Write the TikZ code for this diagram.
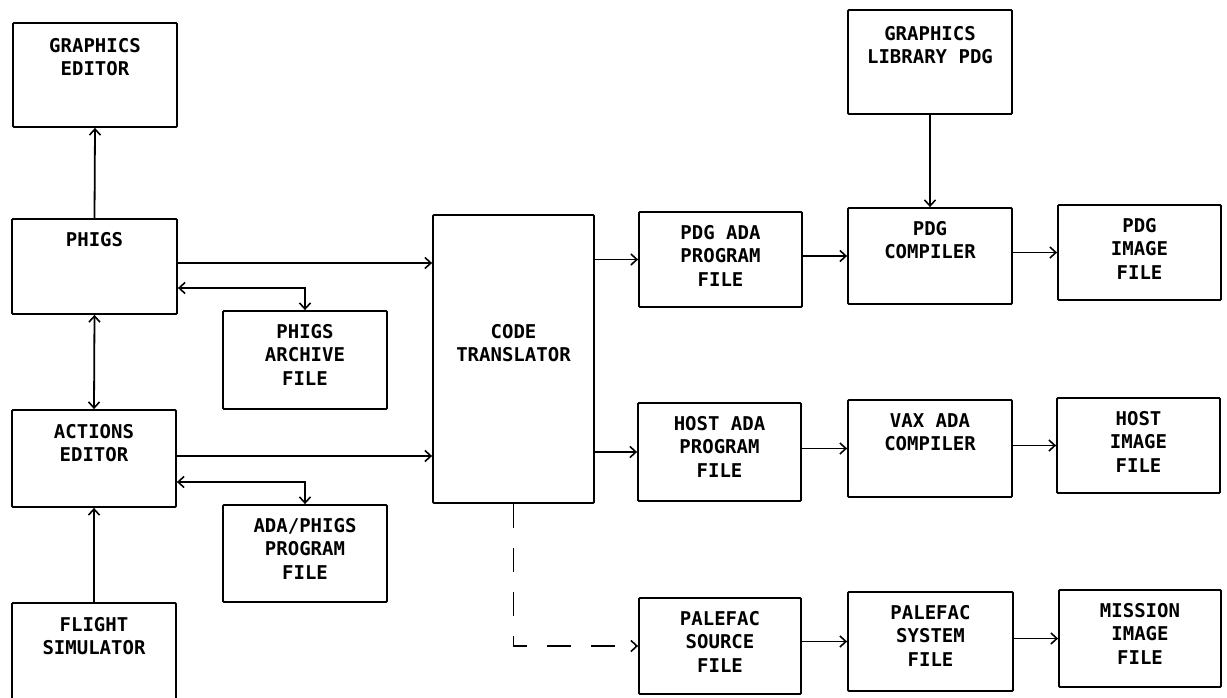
\documentclass[tikz,border=0pt]{standalone}
\usepackage{fontspec}
\newfontfamily\lett{DejaVu Sans Mono}
\usetikzlibrary{arrows.meta}
\begin{document}
\begin{tikzpicture}[x=1pt,y=-1pt,
  box/.style={draw,line width=1.8pt,inner sep=0pt,rounded corners=1pt},
  txt/.style={font=\lett\bfseries\fontsize{19}{23.5}\selectfont,align=center,inner sep=0pt,anchor=north},
  arr/.style={line width=1.8pt,-{Straight Barb[length=6pt,width=11pt,line width=1.6pt]}},
  arrb/.style={line width=1.8pt,{Straight Barb[length=6pt,width=11pt,line width=1.6pt]}-{Straight Barb[length=6pt,width=11pt,line width=1.6pt]}},
  dsh/.style={arr,dash pattern=on 24pt off 20pt}]
\useasboundingbox (0,0) rectangle (1227,698);
% boxes
\node[box,minimum width=164pt,minimum height=104pt] (ge) at (95,75) {};
\node[box,minimum width=165pt,minimum height=95pt] (phigs) at (94.5,266.5) {};
\node[box,minimum width=164pt,minimum height=98pt] (arch) at (305,360) {};
\node[box,minimum width=164pt,minimum height=97pt] (act) at (94,458.5) {};
\node[box,minimum width=164pt,minimum height=97pt] (adap) at (305,553.5) {};
\node[box,minimum width=164pt,minimum height=117pt] (fs) at (94,661.5) {};
\node[box,minimum width=161pt,minimum height=288pt] (ct) at (513.5,359) {};
\node[box,minimum width=163pt,minimum height=95pt] (pdga) at (720.5,259.5) {};
\node[box,minimum width=163pt,minimum height=98pt] (hosta) at (719.5,452) {};
\node[box,minimum width=162pt,minimum height=96pt] (pals) at (720,646) {};
\node[box,minimum width=164pt,minimum height=104pt] (glp) at (930,62) {};
\node[box,minimum width=164pt,minimum height=96pt] (pdgc) at (930,256) {};
\node[box,minimum width=164pt,minimum height=97pt] (vax) at (930,448.5) {};
\node[box,minimum width=165pt,minimum height=99pt] (palsys) at (930.5,641.5) {};
\node[box,minimum width=163pt,minimum height=95pt] (pdgi) at (1139.5,252.5) {};
\node[box,minimum width=163pt,minimum height=95pt] (hosti) at (1138.5,445.5) {};
\node[box,minimum width=162pt,minimum height=97pt] (mis) at (1140,638.5) {};
% texts
\node[txt] (ge-t) at ([yshift=-16pt]ge.north) {GRAPHICS\\EDITOR};
\node[txt] (phigs-t) at ([yshift=-14pt]phigs.north) {PHIGS};
\node[txt] (arch-t) at ([yshift=-14pt]arch.north) {PHIGS\\ARCHIVE\\FILE};
\node[txt] (act-t) at ([yshift=-15pt]act.north) {ACTIONS\\EDITOR};
\node[txt] (adap-t) at ([yshift=-14pt]adap.north) {ADA/PHIGS\\PROGRAM\\FILE};
\node[txt] (fs-t) at ([yshift=-15pt]fs.north) {FLIGHT\\SIMULATOR};
\node[txt] (ct-t) at ([yshift=-110pt]ct.north) {CODE\\TRANSLATOR};
\node[txt] (pdga-t) at ([yshift=-14pt]pdga.north) {PDG ADA\\PROGRAM\\FILE};
\node[txt] (hosta-t) at ([yshift=-14pt]hosta.north) {HOST ADA\\PROGRAM\\FILE};
\node[txt] (pals-t) at ([yshift=-14pt]pals.north) {PALEFAC\\SOURCE\\FILE};
\node[txt] (glp-t) at ([yshift=-17pt]glp.north) {GRAPHICS\\LIBRARY PDG};
\node[txt] (pdgc-t) at ([yshift=-14pt]pdgc.north) {PDG\\COMPILER};
\node[txt] (vax-t) at ([yshift=-14pt]vax.north) {VAX ADA\\COMPILER};
\node[txt] (palsys-t) at ([yshift=-14pt]palsys.north) {PALEFAC\\SYSTEM\\FILE};
\node[txt] (pdgi-t) at ([yshift=-14pt]pdgi.north) {PDG\\IMAGE\\FILE};
\node[txt] (hosti-t) at ([yshift=-14pt]hosti.north) {HOST\\IMAGE\\FILE};
\node[txt] (mis-t) at ([yshift=-14pt]mis.north) {MISSION\\IMAGE\\FILE};
% connectors
\draw[arr] (phigs.north) -- (ge.south);
\draw[arrb] (phigs.south) -- (act.north);
\draw[arr] (fs.north) -- (act.south);
\draw[arr] ([yshift=3.5pt]phigs.east) -- ([yshift=3.5pt]phigs.east -| ct.west);
\draw[arrb] ([yshift=-21.5pt]phigs.east) -| (arch.north);
\draw[arr] ([yshift=2.5pt]act.east) -- ([yshift=2.5pt]act.east -| ct.west);
\draw[arrb] ([yshift=-23.5pt]act.east) -| (adap.north);
\draw[arr] (ct.east |- pdga.west) -- (pdga.west);
\draw[arr] (ct.east |- hosta.west) -- (hosta.west);
\draw[dsh] (ct.south) |- (pals.west);
\draw[arr] (glp.south) -- (pdgc.north);
\draw[arr] (pdga.east |- pdgc.west) -- (pdgc.west);
\draw[arr] (pdgc.east |- pdgi.west) -- (pdgi.west);
\draw[arr] (hosta.east |- vax.west) -- (vax.west);
\draw[arr] (vax.east |- hosti.west) -- (hosti.west);
\draw[arr] (pals.east |- palsys.west) -- (palsys.west);
\draw[arr] (palsys.east |- mis.west) -- (mis.west);
\end{tikzpicture}
\end{document}
